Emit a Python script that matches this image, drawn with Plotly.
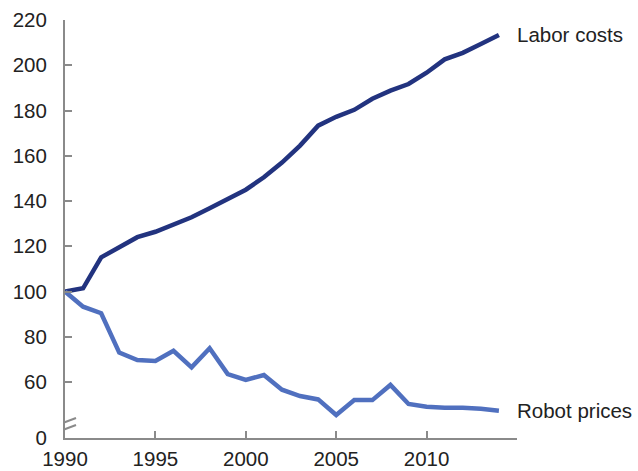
import plotly.graph_objects as go

years = list(range(1990, 2015))
labor_costs = [100, 101.4, 115.1, 119.8, 124.0, 126.4, 129.7, 132.8, 136.8, 140.8,
               145.0, 150.5, 157.0, 164.5, 173.3, 177.2, 180.3, 185.2, 188.8, 191.7,
               196.7, 202.6, 205.5, 209.4, 213.4]
robot_prices = [100, 93.3, 90.4, 73.0, 69.7, 69.3, 73.8, 66.5, 74.9, 63.5,
                60.9, 63.1, 56.6, 53.8, 52.3, 45.4, 52.0, 52.0, 58.7, 50.3,
                49.1, 48.6, 48.6, 48.2, 47.3]
series_names = ["Labor costs", "Robot prices"]
y_tick_vals = [60, 80, 100, 120, 140, 160, 180, 200, 220]
x_tick_vals = [1990, 1995, 2000, 2005, 2010, 2015]
x_tick_text = ["1990", "1995", "2000", "2005", "2010", ""]
y_bottom = 35.25
y_bottom_label = "0"

FONT = "Liberation Sans, Arial, Helvetica, sans-serif"
AXIS = "#8a8a8a"
TXT = "#222222"
C_LABOR = "#22337f"
C_ROBOT = "#5070bf"
FS = 20.5

fig = go.Figure()
fig.add_trace(go.Scatter(x=years, y=labor_costs, mode="lines", name=series_names[0],
                         line=dict(color=C_LABOR, width=4.5)))
fig.add_trace(go.Scatter(x=years, y=robot_prices, mode="lines", name=series_names[1],
                         line=dict(color=C_ROBOT, width=4.5)))

for name, vals in zip(series_names, [labor_costs, robot_prices]):
    fig.add_annotation(x=x_tick_vals[-1], y=vals[-1], text=name, showarrow=False,
                       xanchor="left", yanchor="middle", xshift=-2,
                       font=dict(family=FONT, size=FS, color=TXT))

# axis break marks
for dy in (9, 16):
    fig.add_shape(type="line", xref="x", yref="y",
                  xsizemode="pixel", ysizemode="pixel",
                  xanchor=1990, yanchor=y_bottom,
                  x0=-10, x1=11, y0=dy - 4, y1=dy + 4,
                  line=dict(color=AXIS, width=2))

fig.update_layout(
    template="none",
    width=638, height=471,
    margin=dict(l=65, r=120.5, t=20, b=33.3, pad=0),
    plot_bgcolor="white", paper_bgcolor="white",
    showlegend=False,
    font=dict(family=FONT, size=FS, color=TXT),
)
fig.update_xaxes(range=[1990, 2015], tickvals=x_tick_vals, ticktext=x_tick_text,
                 showgrid=False, zeroline=False, showline=True, linecolor=AXIS, linewidth=2,
                 ticks="inside", ticklen=7, tickwidth=2, tickcolor=AXIS,
                 automargin=False, ticklabelstandoff=1,
                 tickfont=dict(family=FONT, size=FS, color=TXT))
fig.update_yaxes(range=[y_bottom, 220],
                 tickvals=[y_bottom] + y_tick_vals,
                 ticktext=[y_bottom_label] + [str(v) for v in y_tick_vals],
                 showgrid=False, zeroline=False, showline=True, linecolor=AXIS, linewidth=2,
                 ticks="inside", ticklen=7, tickwidth=2, tickcolor=AXIS,
                 automargin=False, ticklabelstandoff=12,
                 tickfont=dict(family=FONT, size=FS, color=TXT))

fig.write_html("out.html")
